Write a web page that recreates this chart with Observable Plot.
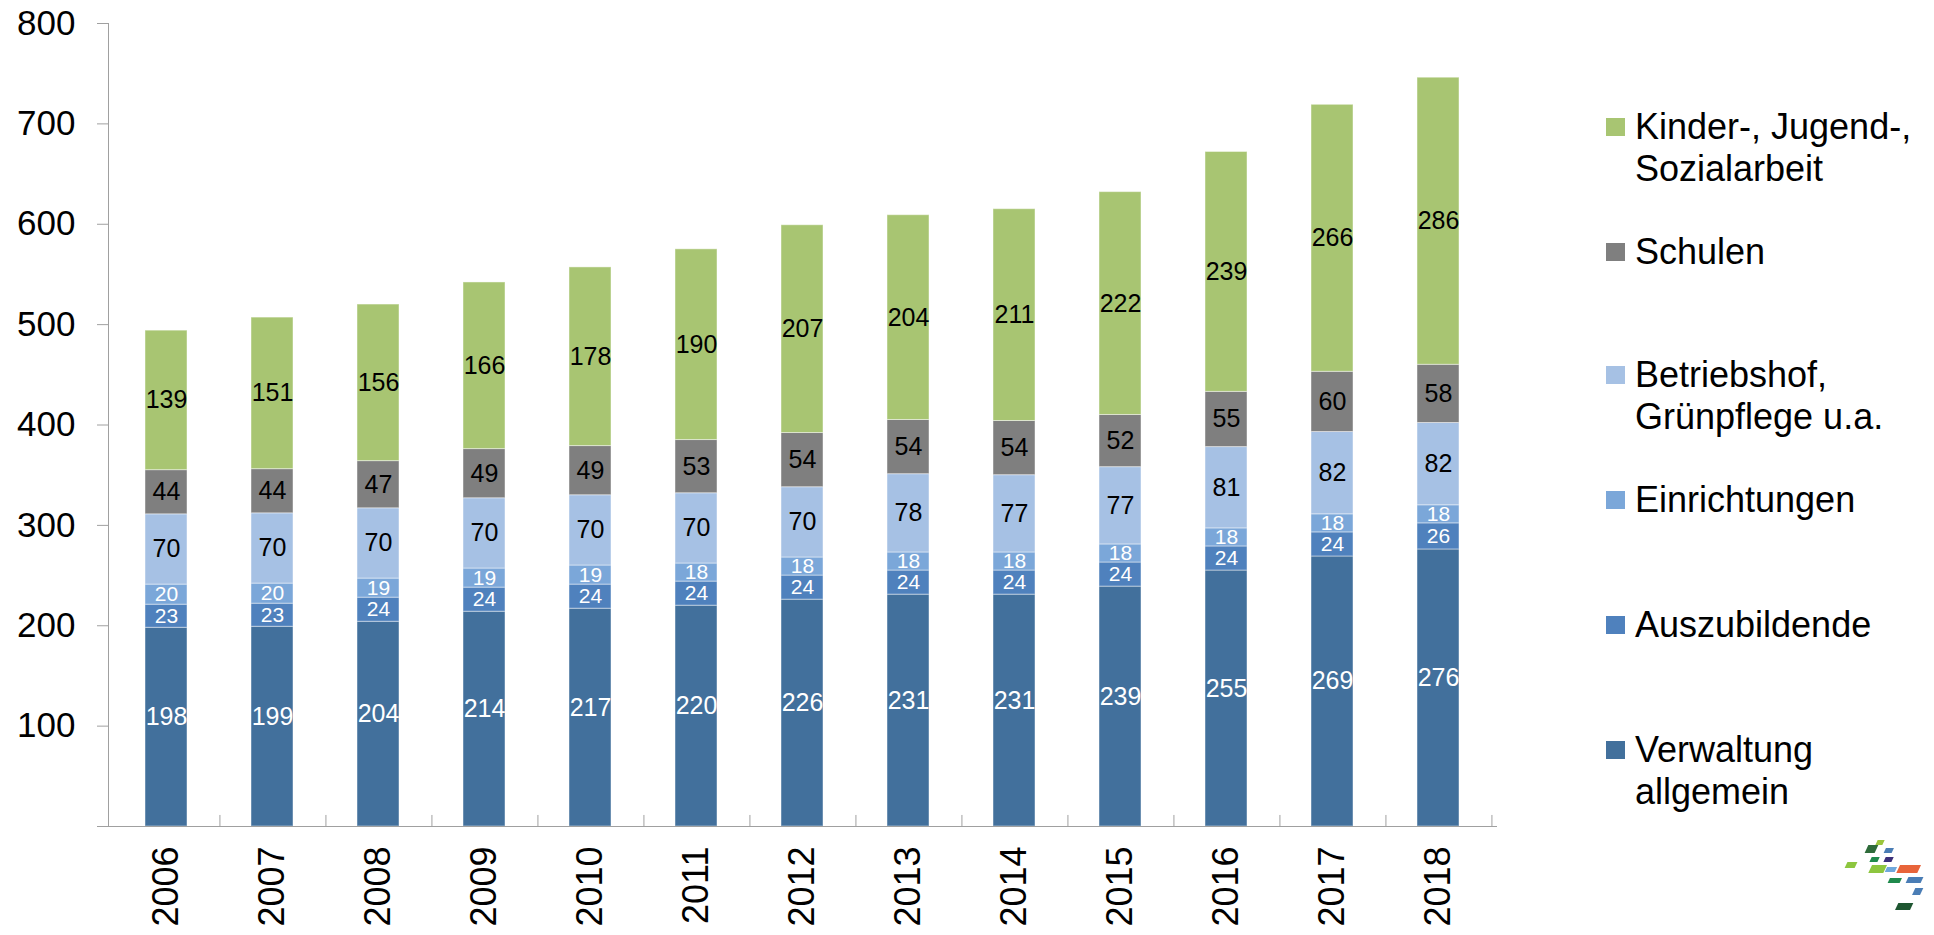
<!DOCTYPE html>
<html><head><meta charset="utf-8">
<script src="https://cdn.jsdelivr.net/npm/d3@7"></script>
<script src="https://cdn.jsdelivr.net/npm/@observablehq/plot@0.6"></script>
<style>
body{margin:0;background:#fff;font-family:"Liberation Sans",Arial,sans-serif;}
#wrap{position:relative;width:1934px;height:935px;overflow:hidden;background:#fff;}
#chart{position:absolute;left:0;top:0;}
.leg{position:absolute;left:1606px;font-size:36px;line-height:42px;color:#000;}
.leg .sw{position:absolute;left:0;width:19px;height:18px;}
.leg .tx{position:absolute;left:29px;top:0;white-space:nowrap;}
#logo{position:absolute;left:1840px;top:835px;}
</style></head>
<body><div id="wrap"><div id="chart"></div><div id="legend"></div><div id="logo"></div></div>
<script>
// ---- data ----
const years = ["2006","2007","2008","2009","2010","2011","2012","2013","2014","2015","2016","2017","2018"];
const series = ["Verwaltung allgemein","Auszubildende","Einrichtungen","Betriebshof, Grünpflege u.a.","Schulen","Kinder-, Jugend-, Sozialarbeit"];
const verwaltung    = [198,199,204,214,217,220,226,231,231,239,255,269,276];
const auszubildende = [23,23,24,24,24,24,24,24,24,24,24,24,26];
const einrichtungen = [20,20,19,19,19,18,18,18,18,18,18,18,18];
const betriebshof   = [70,70,70,70,70,70,70,78,77,77,81,82,82];
const schulen       = [44,44,47,49,49,53,54,54,54,52,55,60,58];
const kinder        = [139,151,156,166,178,190,207,204,211,222,239,266,286];
const yTicks = [0,100,200,300,400,500,600,700,800];
const legendLabels = [
  ["Verwaltung","allgemein"],
  ["Auszubildende"],
  ["Einrichtungen"],
  ["Betriebshof,","Grünpflege u.a."],
  ["Schulen"],
  ["Kinder-, Jugend-,","Sozialarbeit"]
];

// ---- styles ----
const colors = ["#42709C","#4F81BD","#7BA7D9","#A6C1E4","#7F7F7F","#A8C572"];
const smallLabelSeries = new Set(["Auszubildende","Einrichtungen"]);
const blackLabelSeries = new Set(["Betriebshof, Grünpflege u.a.","Schulen","Kinder-, Jugend-, Sozialarbeit"]);
const legendTops = [729,604,479,354,231,106];

const seriesValues = [verwaltung, auszubildende, einrichtungen, betriebshof, schulen, kinder];
const data = [];
series.forEach((s, si) => years.forEach((y, yi) => data.push({year: y, series: s, value: seriesValues[si][yi]})));

const W = 1560, ML = 108, MR = 63, MT = 23, MB = 109;
const step = (W - ML - MR) / years.length;

const labelOf = (set) => d => set.has(d.series) ? String(d.value) : "";

const chart = Plot.plot({
  width: W, height: 935,
  marginLeft: ML, marginRight: MR, marginTop: MT, marginBottom: MB,
  style: {fontFamily: "Liberation Sans, Arial, sans-serif", fontSize: "35px", background: "white", overflow: "visible"},
  x: {domain: years, paddingInner: 0.6, paddingOuter: 0.3},
  y: {domain: [0, 800]},
  color: {domain: series, range: colors},
  marks: [
    Plot.barY(data, {x: "year", y: "value", fill: "series", stroke: "white", strokeOpacity: 0.45, strokeWidth: 1}),
    Plot.text(data, Plot.stackY({x: "year", y: "value", z: "series",
      text: labelOf(new Set([series[0]])), fill: "white", fontSize: 25, dy: -10})),
    Plot.text(data, Plot.stackY({x: "year", y: "value", z: "series",
      text: labelOf(smallLabelSeries), fill: "white", fontSize: 21})),
    Plot.text(data, Plot.stackY({x: "year", y: "value", z: "series",
      text: labelOf(blackLabelSeries), fill: "black", fontSize: 25})),
    Plot.frame({anchor: "left", stroke: "#a0a0a0"}),
    Plot.ruleY([0], {stroke: "#a0a0a0"}),
    Plot.ruleX(years, {x: d => d, y1: 0, y2: 11, dx: step / 2, stroke: "#a0a0a0"}),
    Plot.axisY({ticks: yTicks, tickSize: 11, tickPadding: 22, tickFormat: d => d === 0 ? "" : String(d),
      stroke: "#a0a0a0", fill: "#000", fontSize: 35, label: null}),
    Plot.axisX({tickSize: 0, tickPadding: 20, tickRotate: -90, fontSize: 36, fill: "#000", label: null})
  ]
});
document.getElementById("chart").appendChild(chart);

// ---- legend (HTML) ----
const legend = document.getElementById("legend");
series.forEach((s, i) => {
  const item = document.createElement("div");
  item.className = "leg";
  item.style.top = legendTops[i] + "px";
  const sw = document.createElement("div");
  sw.className = "sw";
  sw.style.top = "12px";
  sw.style.background = colors[i];
  const tx = document.createElement("div");
  tx.className = "tx";
  tx.innerHTML = legendLabels[i].join("<br>");
  item.appendChild(sw); item.appendChild(tx);
  legend.appendChild(item);
});

// ---- decorative logo ----
document.getElementById("logo").innerHTML = `
<svg width="94" height="80" viewBox="0 0 94 80">
 <g transform="skewX(-25)">
  <rect x="20" y="27" width="10" height="6" fill="#8DC63F"/>
  <rect x="33" y="10" width="10" height="8" fill="#2E6B3A"/>
  <rect x="40" y="5" width="7" height="5" fill="#9BC53D"/>
  <rect x="52" y="13" width="8" height="5" fill="#4A7DB5"/>
  <rect x="42" y="22" width="8" height="5" fill="#1F8A4C"/>
  <rect x="56" y="22" width="8" height="5" fill="#3B2F7A"/>
  <rect x="46" y="30" width="15" height="8" fill="#8DC63F"/>
  <rect x="62" y="32" width="10" height="5" fill="#6FA8DC"/>
  <rect x="74" y="30" width="21" height="8" fill="#E8643A"/>
  <rect x="70" y="43" width="12" height="5" fill="#1F8A4C"/>
  <rect x="88" y="42" width="15" height="6" fill="#4A7DB5"/>
  <rect x="100" y="53" width="8" height="7" fill="#4A7DB5"/>
  <rect x="90" y="68" width="15" height="7" fill="#1E5631"/>
 </g>
</svg>`;
</script>
</body></html>
